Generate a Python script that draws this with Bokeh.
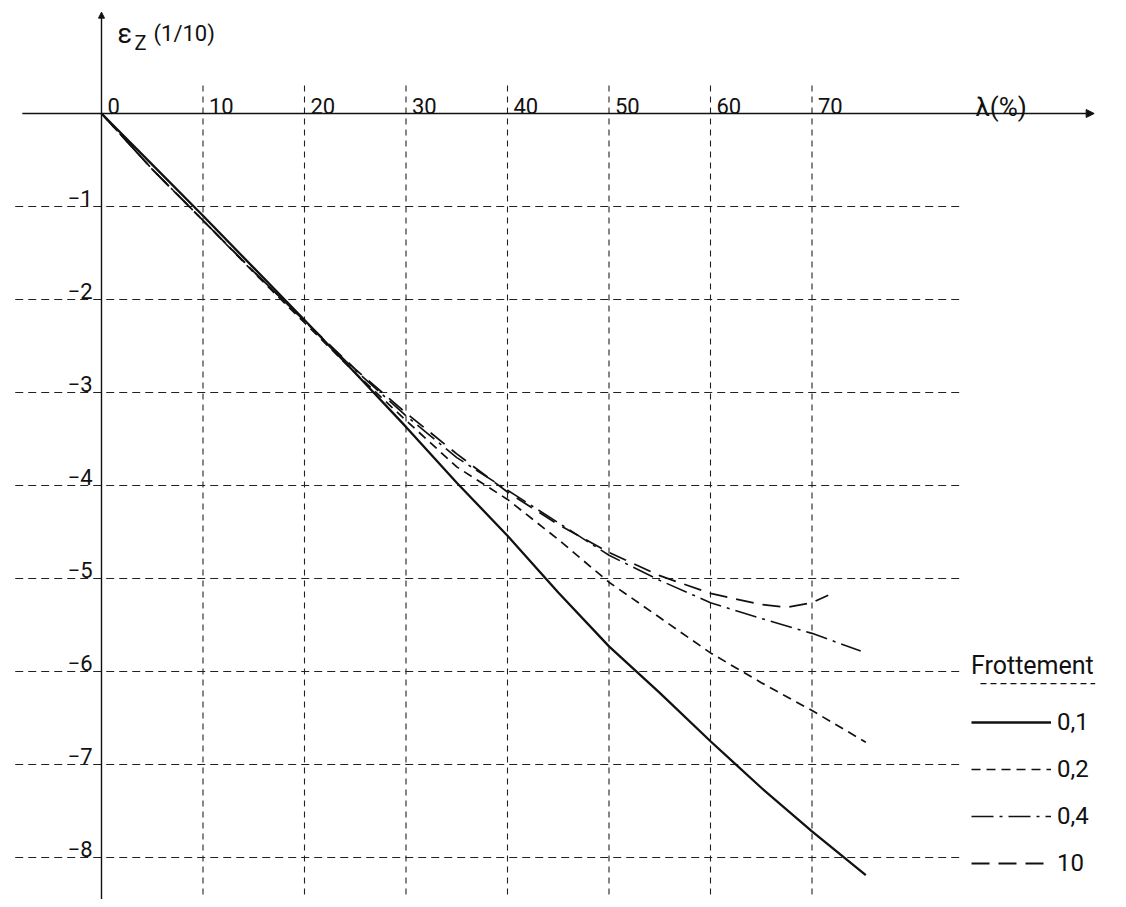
from bokeh.plotting import figure
from bokeh.models import Arrow, NormalHead, Legend, LegendItem
from bokeh.core.properties import value
from bokeh.embed import file_html
from bokeh.resources import INLINE

# ---------------- data ----------------
lam_01 = [0, 5, 10, 15, 20, 25, 30, 35, 40, 45, 50, 55, 60, 65, 70, 75.3]
eps_01 = [0, -0.55, -1.10, -1.66, -2.22, -2.79, -3.37, -3.97, -4.54, -5.15,
          -5.73, -6.23, -6.75, -7.25, -7.72, -8.19]

lam_02 = [0, 5, 10, 15, 20, 25, 30, 35, 40, 45, 50, 55, 60, 65, 70, 75.3]
eps_02 = [0, -0.60, -1.15, -1.71, -2.25, -2.79, -3.30, -3.80, -4.15, -4.58,
          -5.04, -5.42, -5.80, -6.12, -6.42, -6.76]

lam_04 = [0, 5, 10, 15, 20, 25, 30, 35, 40, 45, 50, 55, 60, 65, 70, 74.8]
eps_04 = [0, -0.60, -1.15, -1.70, -2.23, -2.76, -3.25, -3.70, -4.05, -4.40,
          -4.75, -5.02, -5.26, -5.43, -5.59, -5.78]

lam_10 = [0, 5, 10, 15, 20, 25, 30, 35, 40, 45, 50, 55, 60, 65, 67.5, 70, 71.6]
eps_10 = [0, -0.60, -1.15, -1.70, -2.23, -2.75, -3.22, -3.66, -4.07, -4.42,
          -4.72, -4.97, -5.16, -5.28, -5.31, -5.26, -5.18]

x_ticks = [0, 10, 20, 30, 40, 50, 60, 70]
x_tick_labels = ["0", "10", "20", "30", "40", "50", "60", "70"]
y_ticks = [-1, -2, -3, -4, -5, -6, -7, -8]
y_tick_labels = ["\u22121", "\u22122", "\u22123", "\u22124", "\u22125", "\u22126", "\u22127", "\u22128"]
series_labels = ["0,1", "0,2", "0,4", "10"]
legend_title = "Frottement"
x_title = "\u03bb(%)"

# ---------------- figure ----------------
W, H = 1118, 899
PX_PER_X, PX_PER_Y = 10.15, 93.0
X0_PX, Y0_PX = 101.0, 113.0
X_RANGE = (-X0_PX / PX_PER_X, (W - X0_PX) / PX_PER_X)
Y_RANGE = ((Y0_PX - H) / PX_PER_Y, Y0_PX / PX_PER_Y)
INK = "#111111"
GRID = "#222222"
FONT_NAME = "Roboto"
FONT = value(FONT_NAME)

p = figure(width=W, height=H, x_range=X_RANGE, y_range=Y_RANGE,
           output_backend="svg", toolbar_location=None,
           x_axis_type=None, y_axis_type=None, min_border=0)
p.outline_line_color = None
p.background_fill_color = "white"
p.border_fill_color = "white"

# grid lines (dashed, limited extent as in the drawing)
GRID_X_TOP, GRID_X_BOTTOM = 0.3, -8.5
GRID_Y_LEFT, GRID_Y_RIGHT = -8.5, 84.5
vx = x_ticks[1:]
p.segment(x0=vx, y0=[GRID_X_TOP] * len(vx), x1=vx, y1=[GRID_X_BOTTOM] * len(vx),
          line_color=GRID, line_width=1.1, line_dash="6 5")
p.segment(x0=[GRID_Y_LEFT] * len(y_ticks), y0=y_ticks,
          x1=[GRID_Y_RIGHT] * len(y_ticks), y1=y_ticks,
          line_color=GRID, line_width=1.1, line_dash="8 5")

# axes with arrows
p.add_layout(Arrow(x_start=-7.8, y_start=0, x_end=97.8, y_end=0,
                   line_color=INK, line_width=1.6,
                   end=NormalHead(size=8, fill_color=INK, line_color=INK)))
p.add_layout(Arrow(x_start=0, y_start=-8.5, x_end=0, y_end=1.09,
                   line_color=INK, line_width=1.4,
                   end=NormalHead(size=6, fill_color=INK, line_color=INK)))

# tick labels
p.text(x=x_ticks, y=[0] * len(x_ticks), text=x_tick_labels,
       x_offset=6, y_offset=-8, text_align="left", text_baseline="alphabetic",
       text_font=FONT, text_font_size="22px", text_color=INK)
p.text(x=[0] * len(y_ticks), y=y_ticks, text=y_tick_labels,
       x_offset=-9, y_offset=-9, text_align="right", text_baseline="alphabetic",
       text_font=FONT, text_font_size="22px", text_color=INK)

# axis titles
p.text(x=[0], y=[0.86], text=["\u03b5"], x_offset=16, text_align="left",
       text_baseline="alphabetic", text_font=FONT, text_font_size="27px", text_color=INK)
p.text(x=[0], y=[0.755], text=["Z"], x_offset=33, text_align="left",
       text_baseline="alphabetic", text_font=FONT, text_font_size="20px", text_color=INK)
p.text(x=[0], y=[0.86], text=["(1/10)"], x_offset=52, text_align="left",
       text_baseline="alphabetic", text_font=FONT, text_font_size="22px", text_color=INK)
p.text(x=[86.1], y=[0], text=[x_title], y_offset=-7, text_align="left",
       text_baseline="alphabetic", text_font=FONT, text_font_size="26px", text_color=INK)

# curves
r1 = p.line(lam_01, eps_01, line_color=INK, line_width=2.3)
r2 = p.line(lam_02, eps_02, line_color=INK, line_width=1.7, line_dash="9 6")
r3 = p.line(lam_04, eps_04, line_color=INK, line_width=1.6, line_dash="22 6 3 6")
r4 = p.line(lam_10, eps_10, line_color=INK, line_width=1.8, line_dash="18 9")

legend = Legend(
    items=[LegendItem(label=series_labels[0], renderers=[r1]),
           LegendItem(label=series_labels[1], renderers=[r2]),
           LegendItem(label=series_labels[2], renderers=[r3]),
           LegendItem(label=series_labels[3], renderers=[r4])],
    title=legend_title, location=(971, H - 877),
    background_fill_alpha=0, border_line_color=None,
    padding=0, margin=0, spacing=19,
    glyph_width=80, glyph_height=24, label_height=24, label_standoff=6,
    label_text_font=FONT_NAME, label_text_font_size="24px", label_text_color=INK,
    title_text_font=FONT_NAME, title_text_font_size="25px",
    title_text_font_style="normal", title_text_color=INK, title_standoff=28)
p.add_layout(legend)

# dashed underline below legend title
p.segment(x0=[86.6], y0=[-6.13], x1=[97.9], y1=[-6.13],
          line_color=INK, line_width=1.2, line_dash="6 4")

open("out.html", "w").write(file_html(p, INLINE))
